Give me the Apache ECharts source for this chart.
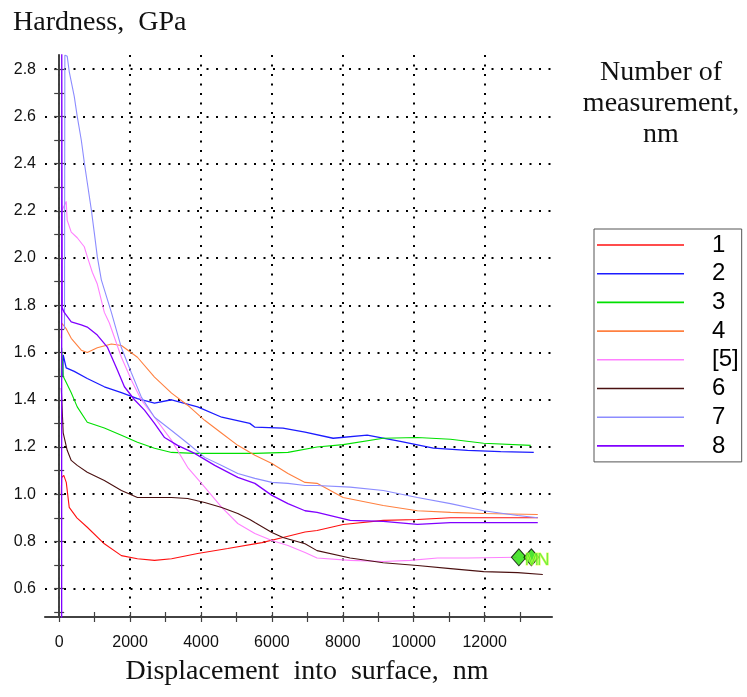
<!DOCTYPE html>
<html><head><meta charset="utf-8">
<script src="https://cdn.jsdelivr.net/npm/echarts@6/dist/echarts.min.js"></script>
<style>html,body{margin:0;padding:0;background:#fff}#c{width:747px;height:697px}</style>
</head><body><div id="c"></div>
<script>
// ---- data ----
const seriesNames = ['1', '2', '3', '4', '[5]', '6', '7', '8'];
const s1 = [[60,1.0],[70,1.07],[130,1.08],[200,1.05],[283,0.944],[500,0.90],[792,0.86],[1274,0.79],[1755,0.74],[2207,0.727],[2689,0.72],[3170,0.727],[3905,0.749],[4754,0.77],[5717,0.795],[6311,0.817],[6934,0.84],[7273,0.846],[8009,0.872],[9141,0.889],[10103,0.893],[11037,0.90],[11971,0.90],[13500,0.90]];
const s2 = [[100,1.5],[113,1.59],[198,1.535],[425,1.52],[792,1.49],[1274,1.455],[1755,1.43],[2207,1.405],[2689,1.386],[3170,1.40],[3905,1.37],[4585,1.326],[5377,1.30],[5519,1.284],[6311,1.28],[6934,1.263],[7726,1.237],[8688,1.25],[9622,1.224],[10556,1.195],[11518,1.186],[12452,1.18],[13386,1.177]];
const s3 = [[60,1.5],[70,1.62],[113,1.50],[340,1.43],[509,1.37],[792,1.305],[1274,1.28],[1755,1.25],[2207,1.22],[2689,1.195],[3170,1.177],[3821,1.173],[4585,1.173],[5519,1.173],[6452,1.177],[7273,1.2],[8009,1.21],[9141,1.237],[10103,1.24],[11037,1.233],[11971,1.216],[13301,1.207]];
const s4 = [[60,1.66],[70,1.725],[200,1.70],[340,1.66],[623,1.61],[792,1.60],[1075,1.62],[1472,1.636],[1755,1.63],[2207,1.58],[2689,1.496],[3170,1.428],[3622,1.377],[4104,1.313],[4585,1.258],[5037,1.207],[5519,1.165],[6000,1.13],[6452,1.088],[6934,1.05],[7273,1.046],[8009,0.986],[9141,0.952],[10103,0.93],[11037,0.923],[11971,0.918],[13499,0.914]];
const s5 = [[70,1.74],[75,2.2],[198,2.24],[226,2.16],[340,2.11],[509,2.086],[708,2.048],[792,2.006],[934,1.94],[1075,1.89],[1274,1.77],[1415,1.725],[1755,1.58],[2038,1.483],[2321,1.398],[2689,1.326],[3170,1.228],[3622,1.114],[4104,1.03],[4585,0.944],[5037,0.876],[5519,0.834],[6000,0.804],[6452,0.783],[6934,0.753],[7273,0.73],[8207,0.72],[9141,0.715],[9905,0.72],[10669,0.73],[11518,0.73],[12900,0.733]];
const s6 = [[60,1.45],[70,1.41],[113,1.26],[226,1.186],[340,1.143],[509,1.122],[792,1.093],[1274,1.058],[1755,1.016],[2207,0.986],[2689,0.986],[3170,0.986],[3622,0.982],[4104,0.965],[4585,0.944],[5037,0.918],[5377,0.893],[5519,0.88],[6000,0.838],[6311,0.817],[6934,0.79],[7273,0.761],[8207,0.73],[9141,0.71],[10103,0.698],[11037,0.685],[11971,0.672],[12933,0.668],[13641,0.66]];
const s7 = [[150,1.70],[160,2.86],[226,2.855],[283,2.79],[425,2.685],[509,2.6],[623,2.50],[708,2.405],[792,2.32],[906,2.205],[991,2.107],[1075,2.006],[1189,1.908],[1472,1.77],[1755,1.62],[2038,1.513],[2321,1.41],[2689,1.326],[3170,1.27],[3622,1.216],[4104,1.156],[4585,1.122],[5037,1.088],[5519,1.067],[6000,1.05],[6452,1.046],[6934,1.037],[7273,1.037],[8207,1.03],[9141,1.016],[10103,0.986],[11037,0.96],[11971,0.93],[12933,0.91],[13499,0.90]];
const s8 = [[70,0.40],[72,2.95],[85,1.79],[142,1.77],[340,1.73],[623,1.717],[792,1.708],[1075,1.674],[1358,1.623],[1641,1.526],[1840,1.455],[2123,1.40],[2406,1.356],[2689,1.30],[2972,1.24],[3339,1.207],[3821,1.173],[4387,1.122],[5037,1.071],[5519,1.046],[6000,0.995],[6452,0.96],[6934,0.93],[7273,0.923],[8207,0.889],[9141,0.885],[10103,0.872],[11037,0.88],[11971,0.88],[13499,0.88]];
const seriesData = [s1, s2, s3, s4, s5, s6, s7, s8];
const markerNames = ['M', 'N'];
const markerPoints = [[12966, 0.733], [13319, 0.733]];
const yMajorTicks = [0.6, 0.8, 1.0, 1.2, 1.4, 1.6, 1.8, 2.0, 2.2, 2.4, 2.6, 2.8];
const yMinorTicks = [0.5, 0.6, 0.7, 0.8, 0.9, 1.0, 1.1, 1.2, 1.3, 1.4, 1.5, 1.6, 1.7, 1.8, 1.9, 2.0, 2.1, 2.2, 2.3, 2.4, 2.5, 2.6, 2.7, 2.8];
const xMajorTicks = [0, 2000, 4000, 6000, 8000, 10000, 12000];
const xMinorTicks = [0, 1000, 2000, 3000, 4000, 5000, 6000, 7000, 8000, 9000, 10000, 11000, 12000, 13000];
const yAxisTitle = 'Hardness,  GPa';
const xAxisTitle = 'Displacement  into  surface,  nm';
const legendTitle = ['Number of', 'measurement,', 'nm'];

// ---- style ----
const colors = ['#ff1010', '#1c1cff', '#00e000', '#ff8040', '#ff80ff', '#4a1010', '#8c8cff', '#8000ff'];
const X_MIN = -400, X_MAX = 13900, Y_MIN = 0.48, Y_MAX = 2.86;
const axisCol = '#404040';
const sans = 'Liberation Sans, Arial, sans-serif';
const serif = 'Liberation Serif, Times New Roman, serif';

function xAx(kind) {
  const base = { type: 'value', min: X_MIN, max: X_MAX, position: 'bottom',
    axisLine: { show: true, onZero: false, lineStyle: { color: axisCol, width: 1.5 } } };
  if (kind === 'main') {
    return Object.assign(base, {
      axisTick: { show: false, customValues: xMajorTicks },
      axisLabel: { customValues: xMajorTicks, color: '#111', fontSize: 16, fontFamily: sans, margin: 18,
        formatter: v => String(Math.round(v)) },
      splitLine: { show: true, lineStyle: { color: '#000', type: [2, 7.5], width: 2 } }
    });
  }
  return Object.assign(base, {
    axisTick: { show: true, customValues: xMinorTicks, inside: kind === 'in', length: 5, lineStyle: { color: axisCol, width: 1.2 } },
    axisLabel: { show: false }, splitLine: { show: false }
  });
}
function yAx(kind) {
  const base = { type: 'value', min: Y_MIN, max: Y_MAX, position: 'left',
    axisLine: { show: true, onZero: true, onZeroAxisIndex: 0, lineStyle: { color: axisCol, width: 1.5 } } };
  if (kind === 'main') {
    return Object.assign(base, {
      axisTick: { show: false, customValues: yMajorTicks },
      axisLabel: { customValues: yMajorTicks, color: '#111', fontSize: 16, fontFamily: sans, margin: 9,
        formatter: v => Number(v).toFixed(1) },
      splitLine: { show: true, lineStyle: { color: '#000', type: [2, 7.5], width: 2 } }
    });
  }
  return Object.assign(base, {
    axisTick: { show: true, customValues: yMinorTicks, inside: kind === 'in', length: 5, lineStyle: { color: axisCol, width: 1.2 } },
    axisLabel: { show: false }, splitLine: { show: false }
  });
}

const series = seriesData.map((d, i) => ({
  name: seriesNames[i], type: 'line', data: d, xAxisIndex: 0, yAxisIndex: 0,
  symbol: 'none', showSymbol: false, clip: true,
  lineStyle: { color: colors[i], width: (i === 1 || i === 7) ? 1.3 : 1.1 },
  itemStyle: { color: colors[i] }
}));
series.push({
  name: 'markers', type: 'scatter', xAxisIndex: 0, yAxisIndex: 0,
  data: markerPoints.map((p, i) => ({ name: markerNames[i], value: p })),
  symbol: 'diamond', symbolSize: [15, 17], z: 5,
  itemStyle: { color: '#22dd00', borderColor: '#000', borderWidth: 1 },
  label: { show: true, formatter: '{b}', position: 'right', distance: 0, offset: [-2, 3],
    color: '#55ee22', fontSize: 17, fontFamily: sans, textBorderColor: '#eeff55', textBorderWidth: 1 }
});

const chart = echarts.init(document.getElementById('c'), null, { renderer: 'canvas' });
chart.setOption({
  animation: false,
  backgroundColor: '#fff',
  grid: { left: 45, right: 195, top: 55, bottom: 80, containLabel: false },
  xAxis: [xAx('main'), xAx('in'), xAx('out')],
  yAxis: [yAx('main'), yAx('in'), yAx('out')],
  legend: {
    data: seriesNames.map(n => ({ name: n, icon: 'rect' })), orient: 'vertical', left: 594, top: 229,
    padding: [4, 3, 4, 3], itemWidth: 87, itemHeight: 1.6, itemGap: 4.7,
    borderColor: '#555', borderWidth: 1,
    textStyle: { fontSize: 24, fontFamily: sans, color: '#000', padding: [0, 0, 0, 23], lineHeight: 24 }
  },
  graphic: [
    { type: 'text', x: 13, y: 23, style: { text: yAxisTitle, font: '28px ' + serif, fill: '#111', verticalAlign: 'middle', align: 'left' } },
    { type: 'text', x: 307, y: 672, style: { text: xAxisTitle, font: '28px ' + serif, fill: '#111', verticalAlign: 'middle', align: 'center' } },
    { type: 'text', x: 661, y: 73, style: { text: legendTitle[0], font: '28px ' + serif, fill: '#111', verticalAlign: 'middle', align: 'center' } },
    { type: 'text', x: 661, y: 104, style: { text: legendTitle[1], font: '28px ' + serif, fill: '#111', verticalAlign: 'middle', align: 'center' } },
    { type: 'text', x: 661, y: 135, style: { text: legendTitle[2], font: '28px ' + serif, fill: '#111', verticalAlign: 'middle', align: 'center' } }
  ],
  series: series
});
</script></body></html>
